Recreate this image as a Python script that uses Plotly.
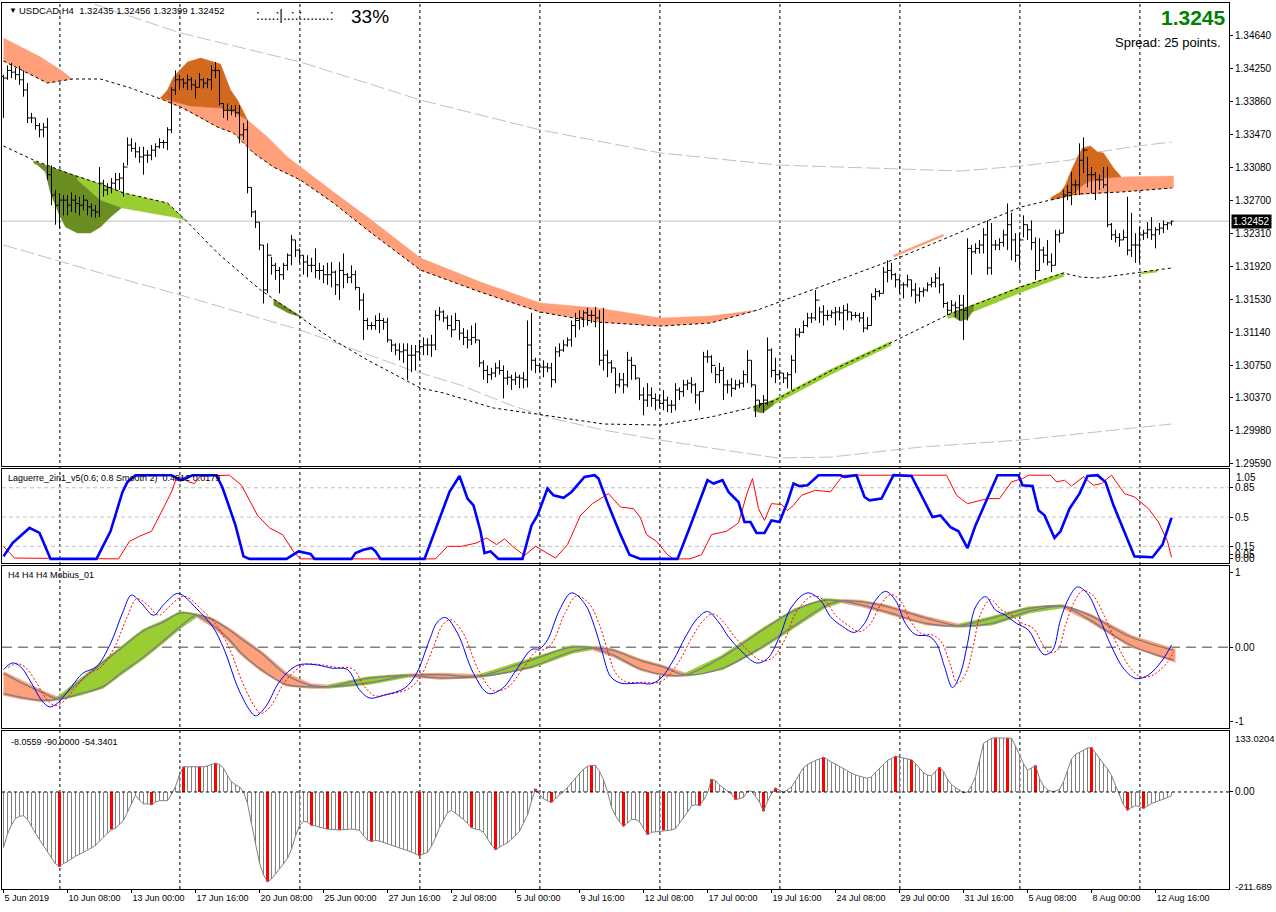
import plotly.graph_objects as go

# ====================== DATA ======================
x_tick_bars = [0, 16, 32, 48, 64, 80, 96, 112, 128, 144, 160, 176, 192, 208, 224, 240, 256, 272, 288]
x_tick_labels = ["5 Jun 2019", "10 Jun 08:00", "13 Jun 00:00", "17 Jun 16:00", "20 Jun 08:00",
                 "25 Jun 00:00", "27 Jun 16:00", "2 Jul 08:00", "5 Jul 00:00", "9 Jul 16:00",
                 "12 Jul 08:00", "17 Jul 00:00", "19 Jul 16:00", "24 Jul 08:00", "29 Jul 00:00",
                 "31 Jul 16:00", "5 Aug 08:00", "8 Aug 00:00", "12 Aug 16:00"]
grid_bars = [14.1, 44.1, 74.1, 104.1, 134.1, 164.1, 194.1, 224.1, 254.1, 284.1]
price_ticks = [1.29590, 1.29980, 1.30370, 1.30750, 1.31140, 1.31530, 1.31920,
               1.32310, 1.32700, 1.33080, 1.33470, 1.33860, 1.34250, 1.34640]
last_price = 1.32452

# USDCAD H4 bars, prices in units of 0.0001
first_open = 13416
bar_high = [13418,13429,13432,13426,13428,13423,13408,13373,13367,13361,
            13361,13367,13311,13282,13278,13276,13276,13279,13276,13274,
            13276,13270,13266,13264,13309,13294,13290,13296,13302,13302,
            13314,13344,13343,13338,13333,13333,13329,13335,13337,13343,
            13341,13356,13403,13423,13418,13414,13418,13415,13412,13420,
            13414,13414,13429,13433,13423,13384,13384,13382,13382,13382,
            13361,13364,13285,13258,13244,13217,13219,13203,13196,13191,
            13196,13207,13229,13223,13213,13205,13205,13202,13213,13196,
            13193,13196,13197,13187,13197,13207,13184,13193,13187,13167,
            13160,13131,13126,13134,13137,13131,13131,13105,13101,13101,
            13101,13101,13099,13099,13105,13108,13107,13111,13140,13144,
            13140,13134,13134,13137,13128,13119,13117,13122,13125,13105,
            13081,13075,13072,13078,13081,13075,13069,13064,13067,13064,
            13067,13128,13137,13084,13078,13081,13078,13078,13097,13101,
            13105,13108,13128,13137,13140,13140,13143,13140,13144,13140,
            13143,13093,13081,13072,13066,13066,13091,13085,13075,13060,
            13049,13054,13049,13042,13040,13046,13038,13034,13054,13049,
            13058,13058,13061,13054,13044,13091,13093,13087,13073,13078,
            13073,13058,13060,13058,13058,13069,13093,13081,13052,13034,
            13040,13108,13095,13084,13069,13066,13067,13087,13119,13119,
            13128,13137,13137,13164,13144,13146,13140,13140,13144,13144,
            13146,13148,13138,13138,13137,13138,13132,13160,13166,13164,
            13191,13199,13196,13184,13179,13173,13182,13176,13172,13167,
            13167,13173,13179,13184,13191,13172,13150,13152,13150,13158,
            13158,13225,13217,13219,13223,13237,13246,13243,13223,13225,
            13235,13266,13255,13231,13231,13252,13241,13246,13226,13225,
            13215,13223,13207,13235,13235,13282,13288,13303,13294,13337,
            13344,13321,13309,13303,13300,13309,13309,13243,13235,13231,
            13235,13274,13255,13231,13238,13235,13244,13250,13238,13243,
            13246,13244,13246]
bar_low = [13367,13412,13414,13412,13406,13392,13361,13361,13353,13344,
           13344,13294,13264,13241,13237,13252,13252,13256,13255,13252,
           13258,13252,13250,13249,13250,13274,13276,13278,13282,13282,
           13274,13311,13327,13320,13314,13300,13314,13317,13321,13331,
           13331,13329,13349,13394,13400,13402,13400,13400,13390,13403,
           13402,13402,13400,13414,13382,13367,13364,13370,13368,13337,
           13341,13278,13250,13237,13211,13148,13160,13182,13176,13160,
           13176,13187,13193,13203,13196,13182,13179,13185,13178,13176,
           13172,13170,13167,13158,13152,13166,13172,13172,13164,13140,
           13105,13117,13117,13117,13113,13117,13102,13091,13087,13081,
           13078,13058,13067,13069,13081,13087,13087,13085,13093,13128,
           13126,13117,13108,13117,13105,13099,13095,13099,13101,13073,
           13058,13054,13058,13061,13064,13036,13052,13046,13052,13048,
           13048,13049,13069,13066,13067,13061,13067,13049,13054,13085,
           13091,13097,13097,13108,13117,13120,13122,13125,13120,13075,
           13069,13061,13066,13042,13049,13042,13049,13058,13058,13034,
           13016,13026,13026,13022,13025,13022,13020,13019,13022,13034,
           13038,13046,13042,13030,13022,13044,13078,13066,13054,13054,
           13034,13042,13038,13046,13048,13049,13054,13049,13014,13025,
           13019,13028,13061,13054,13058,13054,13048,13046,13066,13108,
           13113,13120,13125,13128,13125,13122,13128,13131,13122,13128,
           13117,13128,13128,13131,13126,13114,13117,13122,13152,13156,
           13160,13173,13176,13167,13160,13154,13167,13156,13148,13150,
           13156,13162,13167,13167,13160,13143,13134,13137,13132,13128,
           13105,13128,13182,13207,13207,13207,13182,13182,13211,13211,
           13215,13211,13199,13197,13190,13226,13223,13211,13176,13187,
           13196,13193,13185,13193,13220,13231,13270,13264,13278,13276,
           13302,13285,13278,13270,13282,13284,13238,13223,13220,13215,
           13223,13205,13203,13196,13196,13223,13225,13223,13213,13229,
           13231,13235,13240]
bar_close = [13414,13423,13421,13418,13412,13400,13367,13367,13358,13353,
             13356,13300,13276,13264,13270,13270,13264,13270,13266,13264,
             13270,13262,13258,13256,13290,13282,13285,13290,13294,13296,
             13309,13335,13331,13327,13321,13323,13323,13329,13333,13338,
             13338,13353,13400,13412,13412,13408,13412,13406,13403,13412,
             13408,13412,13423,13423,13384,13376,13376,13376,13373,13347,
             13353,13285,13256,13244,13217,13164,13205,13193,13187,13182,
             13193,13205,13223,13211,13205,13197,13193,13193,13187,13187,
             13182,13182,13185,13170,13187,13182,13179,13182,13167,13152,
             13128,13122,13122,13128,13128,13126,13105,13099,13093,13091,
             13093,13087,13087,13091,13097,13099,13099,13099,13134,13138,
             13131,13122,13117,13128,13113,13108,13105,13108,13105,13078,
             13069,13064,13066,13072,13069,13060,13061,13058,13061,13060,
             13058,13099,13081,13075,13073,13073,13072,13058,13091,13093,
             13099,13105,13122,13128,13131,13137,13134,13134,13131,13081,
             13087,13078,13072,13052,13058,13052,13081,13075,13060,13040,
             13034,13040,13036,13034,13030,13034,13028,13028,13046,13044,
             13052,13054,13052,13040,13044,13085,13085,13075,13064,13069,
             13052,13052,13048,13052,13054,13064,13081,13052,13034,13030,
             13034,13093,13069,13064,13066,13060,13064,13081,13111,13114,
             13122,13131,13131,13152,13138,13134,13134,13137,13138,13137,
             13140,13138,13134,13134,13131,13119,13122,13156,13162,13160,
             13185,13187,13182,13176,13170,13170,13176,13164,13158,13162,
             13164,13170,13173,13178,13170,13148,13140,13146,13143,13146,
             13140,13213,13209,13213,13217,13229,13190,13217,13217,13220,
             13229,13241,13223,13205,13223,13241,13235,13220,13187,13211,
             13205,13197,13193,13229,13231,13276,13279,13288,13288,13317,
             13329,13300,13300,13294,13294,13288,13241,13229,13226,13223,
             13226,13211,13217,13217,13229,13231,13235,13229,13235,13237,
             13241,13243,13245]

# --- main-panel indicator curves (x = bar index, y = price) ---
mid_up_x = [0, 11, 17.25, 24.25, 31.75, 40, 44.25, 46.75, 53.5, 57.5, 62.5, 67.5, 74.25, 82.5, 91,
            104.25, 119.25, 134.25, 148.5, 164.25, 176.75, 188.5, 206.75, 224.25, 239.25, 254.25,
            261.75, 268.5, 279.25, 292]
mid_up_y = [1.34341, 1.34082, 1.34129, 1.34129, 1.34023, 1.33881, 1.33798, 1.33739, 1.33562, 1.33492,
            1.33256, 1.33090, 1.32937, 1.32666, 1.32347, 1.31875, 1.31615, 1.31379, 1.31261, 1.31214,
            1.31250, 1.31403, 1.31722, 1.32028, 1.32323, 1.32618, 1.32701, 1.32772, 1.32795, 1.32843]
mid_dn_x = [0, 7.5, 16, 24.25, 30, 41, 45.5, 53.5, 64.25, 74.25, 82.5, 91, 104.25, 110, 122.5, 135,
            150, 164.25, 176.75, 187.5, 192.5, 206.75, 221.75, 236, 254.25, 265, 269.25, 273.5, 283.5, 292]
mid_dn_y = [1.33338, 1.33173, 1.33020, 1.32890, 1.32784, 1.32666, 1.32465, 1.32076, 1.31639, 1.31320,
            1.31049, 1.30813, 1.30483, 1.30424, 1.30247, 1.30164, 1.30058, 1.30046, 1.30140, 1.30258,
            1.30329, 1.30683, 1.31014, 1.31344, 1.31674, 1.31840, 1.31792, 1.31781, 1.31840, 1.31899]
outer_up_x = [14.25, 21.75, 44.25, 74.25, 104.25, 134.25, 164.25, 193.5, 224.25, 239.25, 254.25,
              266.75, 273.5, 283.5, 292]
outer_up_y = [1.35155, 1.35026, 1.34672, 1.34329, 1.33881, 1.33527, 1.33256, 1.33114, 1.33067,
              1.33043, 1.33102, 1.33173, 1.33267, 1.33338, 1.33385]
outer_dn_x = [0, 24.25, 44.25, 74.25, 101.75, 114.25, 126.75, 136.75, 150, 164.25, 176.75, 193.5,
              206.75, 229.25, 254.25, 292]
outer_dn_y = [1.32170, 1.31840, 1.31580, 1.31167, 1.30695, 1.30518, 1.30282, 1.30129, 1.29987,
              1.29869, 1.29775, 1.29657, 1.29668, 1.29786, 1.29869, 1.30058]

# salmon bands (upper edge / lower edge)
salmon1_top_x = [0, 4.25, 9.25, 14.25, 17.25]
salmon1_top_y = [1.34613, 1.34506, 1.34388, 1.34235, 1.34129]
salmon1_bot_x = [0, 11, 17.25]
salmon1_bot_y = [1.34341, 1.34082, 1.34129]
salmon2_top_x = [39.25, 46.75, 54.25, 57.5, 61, 66, 71, 74.25, 82.5, 91, 104.25, 119.25, 134.25,
                 148.5, 164.25, 176.75, 188.5]
salmon2_top_y = [1.33905, 1.33810, 1.33787, 1.33739, 1.33645, 1.33444, 1.33208, 1.33090, 1.32795,
                 1.32500, 1.32017, 1.31733, 1.31486, 1.31427, 1.31309, 1.31332, 1.31403]
salmon2_bot_x = [39.25, 40, 44.25, 46.75, 53.5, 57.5, 62.5, 67.5, 74.25, 82.5, 91, 104.25, 119.25,
                 134.25, 148.5, 164.25, 176.75, 188.5]
salmon2_bot_y = [1.33893, 1.33881, 1.33798, 1.33739, 1.33562, 1.33492, 1.33256, 1.33090, 1.32937,
                 1.32666, 1.32347, 1.31875, 1.31615, 1.31379, 1.31261, 1.31214, 1.31250, 1.31403]
salmon3_x = [222.5, 235]
salmon3_y = [1.32040, 1.32288]
salmon4_top_x = [267.5, 269.25, 271, 275, 279.25, 292.5]
salmon4_top_y = [1.32760, 1.32855, 1.32913, 1.32961, 1.32972, 1.32984]
salmon4_bot_x = [267.5, 279.25, 292.5]
salmon4_bot_y = [1.32760, 1.32795, 1.32843]

# dark orange humps
hump1_top_x = [39.25, 41, 42.5, 44.25, 46, 49.25, 52.5, 54.25, 55.5, 56.75, 58.5, 61]
hump1_top_y = [1.33905, 1.33999, 1.34152, 1.34235, 1.34329, 1.34377, 1.34329, 1.34306, 1.34152,
               1.33999, 1.33881, 1.33645]
hump1_bot_x = [39.25, 46.75, 54.25, 57.5, 61]
hump1_bot_y = [1.33905, 1.33810, 1.33787, 1.33739, 1.33645]
hump2_top_x = [261.75, 264.25, 265.5, 266.75, 268.5, 269.75, 271.75, 273.5, 275, 276.25, 277.5, 279.25]
hump2_top_y = [1.32725, 1.32795, 1.32878, 1.33031, 1.33208, 1.33315, 1.33338, 1.33267, 1.33256,
               1.33173, 1.33079, 1.32984]
hump2_bot_x = [261.75, 267.5, 269.25, 271, 275, 279.25]
hump2_bot_y = [1.32701, 1.32760, 1.32855, 1.32913, 1.32961, 1.32972]

# green bands
olive1_top_x = [7.5, 16, 24.25, 29.75]
olive1_top_y = [1.33161, 1.33020, 1.32890, 1.32795]
olive1_bot_x = [7.5, 8.5, 10.5, 11.75, 13.75, 15.5, 18.5, 21.75, 24.25, 26.75, 29.75]
olive1_bot_y = [1.33138, 1.33114, 1.33031, 1.32784, 1.32548, 1.32382, 1.32312, 1.32312, 1.32382,
                1.32500, 1.32618]
lime1_top_x = [18.5, 24.25, 30, 41, 45.5]
lime1_top_y = [1.32972, 1.32890, 1.32784, 1.32666, 1.32465]
lime1_bot_x = [18.5, 24.25, 29.75, 36.75, 42.5, 45.5]
lime1_bot_y = [1.32937, 1.32701, 1.32607, 1.32548, 1.32500, 1.32465]
olive2_top_x = [67.5, 75]
olive2_top_y = [1.31533, 1.31309]
olive2_bot_x = [67.5, 71.25, 75]
olive2_bot_y = [1.31462, 1.31368, 1.31309]
olive3_top_x = [187.5, 192.5]
olive3_top_y = [1.30270, 1.30341]
olive3_bot_x = [187.5, 189.75, 192.5]
olive3_bot_y = [1.30211, 1.30188, 1.30282]
lime3_top_x = [192.5, 206.75, 221.75]
lime3_top_y = [1.30341, 1.30695, 1.31025]
lime3_bot_x = [192.5, 206.75, 221.75]
lime3_bot_y = [1.30294, 1.30648, 1.30990]
olive4_top_x = [237.5, 242.5]
olive4_top_y = [1.31379, 1.31462]
olive4_bot_x = [237.5, 239.25, 241, 242.5]
olive4_bot_y = [1.31320, 1.31273, 1.31297, 1.31403]
lime4_top_x = [236, 254.25, 265]
lime4_top_y = [1.31344, 1.31674, 1.31840]
lime4_bot_x = [236, 242.5, 254.25, 265]
lime4_bot_y = [1.31309, 1.31391, 1.31615, 1.31804]
lime5_x = [284.25, 288.5]
lime5_y = [1.31840, 1.31863]

# --- Laguerre ---
lag_levels = [0.15, 0.5, 0.85]
lag_ticks = [0.85, 0.5, 0.15, 0.05, 0.0]
lag_tick_text = ["0.85", "0.5", "0.15", "0.05", "0.00"]
lag_top_label = "1.05"
lag_blue_x = [0,2.25,6.5,9,11.5,11.75,23.25,26.75,29.75,31,33,42,44.25,47.25,53.25,54.75,56,58,60,61.5,
              70.75,73.75,76.75,77.75,87,88,90,92,93,94.25,105.25,109,111.5,114,116,117.5,119.25,120.25,
              121.75,123.75,129.75,132,133.5,136,137.5,140,142,145.25,147.75,148.75,151.25,154.25,156.5,
              159.25,168.5,171.5,174,176,177.5,179.75,181.25,183.75,185.25,186.75,188.25,190.25,192,194,
              196,197.5,199,201,203.75,209.25,210.25,212.25,213.25,215.25,216.5,219.5,222.5,227,229.75,
              232.25,234.25,236.75,238.75,241,243,246,248.5,253.75,254.75,257.25,258.75,260.25,262.75,
              264.25,266.5,269,271,273.5,275.5,277.5,280.25,282.75,287.25,289.75,292]
lag_blue_y = [0.03,0.19,0.37,0.31,0.03,0.0,0.0,0.33,0.80,0.92,1.0,1.0,0.94,1.0,1.0,0.85,0.68,0.40,0.03,0.0,
              0.0,0.09,0.06,0.0,0.0,0.07,0.11,0.13,0.09,0.0,0.0,0.49,0.80,0.99,0.72,0.64,0.33,0.07,0.09,0.0,
              0.0,0.40,0.52,0.84,0.76,0.73,0.80,0.98,1.0,0.96,0.64,0.29,0.05,0.0,0.0,0.37,0.68,0.94,0.90,0.94,
              0.80,0.68,0.44,0.44,0.31,0.31,0.46,0.44,0.68,0.90,0.87,0.88,1.0,1.0,0.98,0.99,1.0,0.74,0.70,0.72,
              1.0,0.99,0.73,0.50,0.52,0.38,0.33,0.13,0.40,0.72,1.0,1.0,0.88,0.87,0.58,0.52,0.25,0.33,0.60,0.78,
              0.99,1.0,0.92,0.64,0.33,0.03,0.02,0.17,0.49]
lag_red_x = [0,2.75,28.75,31.5,34,37,40,42,43.25,44.75,46.25,47.75,49.25,56.5,59.5,63.5,66.5,69.75,72.75,
             74.25,108,111,114.5,118.25,120.75,123.25,125.25,127.25,130.25,133,138,141,144.25,147.25,151.25,
             154.25,157.5,159.25,160.75,163.25,166,167.5,171.5,174.5,177,180.75,183.75,186,187.25,188.75,
             190.25,192,194.5,196,197.5,199.5,203,206.75,209.25,210.25,235.75,238.25,241,246,249,252,254.75,
             256.25,261.75,263.25,265.25,267,270,272.5,274.5,277,280.25,282.75,286.25,288.75,291,292]
lag_red_y = [0.15,0.01,0.0,0.21,0.27,0.33,0.61,0.80,0.97,0.97,0.92,0.90,0.99,1.0,0.88,0.52,0.37,0.29,0.07,0.0,
             0.0,0.15,0.15,0.19,0.25,0.17,0.24,0.15,0.04,0.15,0.01,0.17,0.52,0.66,0.78,0.62,0.60,0.49,0.29,0.21,
             0.05,0.0,0.0,0.05,0.29,0.33,0.43,0.80,0.96,0.60,0.46,0.66,0.65,0.58,0.64,0.76,0.82,0.80,0.96,1.0,
             1.0,0.76,0.66,0.72,0.72,0.92,0.96,1.0,1.0,0.92,0.94,0.87,0.98,0.88,0.90,1.0,0.78,0.74,0.60,0.44,
             0.21,0.02]

# --- Mobius ---
mob_ticks = [1, 0, -1]
mob_tick_text = ["1", "0.00", "-1"]
mob_blue_x = [0,2.25,4.25,7,9.5,11.5,13.5,17,19.75,23.25,26.75,29.75,32,34.5,37.5,40,43.25,44.75,48.25,52.25,
              55.25,58.5,61.5,63,65.5,68.75,71.75,74.25,78.75,82,86,89,91.5,95.25,100.25,103.25,106.5,108.5,
              110.5,113.5,117.5,121.25,124.75,128.25,132,134,136,139,142,145.25,147.75,149.75,151.75,154.25,
              159.25,161.75,164.25,167.5,170.5,173.5,176,178.75,181.25,184.25,188.25,191,194,197,201,204.25,
              206.75,209.75,212.75,215.25,218,220.5,223,225.5,228,231.25,233.25,235.25,237.25,239.25,241,243,
              245.5,248,250.5,253.25,256.25,258.75,260.25,262.25,264.25,266.5,268.5,271,274,277,280.25,283.25,
              286.25,289.75,292]
mob_blue_y = [-0.30,-0.21,-0.26,-0.48,-0.71,-0.80,-0.75,-0.53,-0.35,-0.26,0.05,0.46,0.70,0.59,0.43,0.57,0.72,
              0.70,0.52,0.28,-0.04,-0.53,-0.84,-0.92,-0.80,-0.48,-0.30,-0.23,-0.24,-0.28,-0.30,-0.57,-0.68,
              -0.64,-0.55,-0.35,0.10,0.34,0.40,0.19,-0.35,-0.62,-0.55,-0.30,-0.03,-0.02,0.10,0.50,0.73,0.59,
              0.28,-0.08,-0.39,-0.48,-0.48,-0.49,-0.42,-0.17,0.14,0.39,0.48,0.34,0.14,-0.04,-0.21,-0.15,0.14,
              0.54,0.73,0.63,0.41,0.28,0.20,0.32,0.63,0.75,0.63,0.32,0.17,0.15,0.05,-0.26,-0.54,-0.35,0.05,
              0.54,0.68,0.50,0.43,0.32,0.23,-0.01,-0.10,-0.04,0.37,0.68,0.81,0.72,0.39,0.01,-0.30,-0.42,-0.37,
              -0.17,0.03]
mob_red_x = [1.2,3.5,5.5,8.2,10.7,12.8,14.7,18.2,21,24.5,28,31,33.3,35.8,38.8,41.3,44.5,46,49.5,53.5,
             56.5,59.8,62.8,64.3,66.8,70,73,75.5,80,83.3,87.3,90.3,92.8,96.5,101.5,104.5,107.8,109.8,111.8,
             114.8,118.8,122.5,126,129.5,133.3,135.3,137.3,140.3,143.3,146.5,149,151,153,155.5,160.5,163,
             165.5,168.8,171.8,174.8,177.3,180,182.5,185.5,189.5,192.3,195.3,198.3,202.3,205.5,208,211,214,
             216.5,219.3,221.8,224.3,226.8,229.3,232.5,234.5,236.5,238.5,240.5,242.3,244.3,246.8,249.3,251.8,
             254.5,257.5,260,261.5,263.5,265.5,267.8,269.8,272.3,275.3,278.3,281.5,284.5,287.5,291,292.5]
mob_red_y = [-0.27,-0.22,-0.27,-0.47,-0.69,-0.78,-0.74,-0.53,-0.36,-0.26,0.03,0.42,0.65,0.58,0.43,0.54,0.68,
             0.67,0.51,0.28,-0.02,-0.48,-0.80,-0.89,-0.79,-0.49,-0.31,-0.23,-0.24,-0.27,-0.29,-0.53,-0.65,
             -0.63,-0.55,-0.37,0.05,0.30,0.37,0.20,-0.31,-0.58,-0.54,-0.31,-0.05,-0.03,0.07,0.45,0.69,0.58,
             0.30,-0.04,-0.34,-0.46,-0.47,-0.48,-0.42,-0.20,0.10,0.35,0.45,0.34,0.16,-0.01,-0.18,-0.14,0.10,
             0.48,0.69,0.62,0.43,0.30,0.21,0.30,0.57,0.71,0.62,0.35,0.19,0.16,0.07,-0.20,-0.48,-0.36,-0.02,
             0.45,0.64,0.51,0.44,0.33,0.25,0.02,-0.07,-0.04,0.30,0.62,0.76,0.70,0.41,0.05,-0.26,-0.40,-0.37,
             -0.20,-0.06]
mob_band_x = [0,4.25,9.5,13.5,19.25,24.75,29.25,35,40,44.25,48.25,52.25,56.5,59.5,64.5,70.75,76.75,81,91,
              101.25,109.25,118.75,132,142,147.25,152.25,159.25,165.25,170.5,179.75,189.75,198,205.25,209.25,
              214.25,220.5,230.75,238.75,247,256.25,264.75,271.5,281.75,292.5]
mob_fast = [-0.62,-0.67,-0.71,-0.69,-0.45,-0.21,-0.02,0.22,0.34,0.46,0.43,0.30,0.10,-0.08,-0.30,-0.50,-0.53,
            -0.53,-0.42,-0.38,-0.41,-0.39,-0.17,0.0,-0.01,-0.10,-0.29,-0.37,-0.37,-0.13,0.23,0.50,0.63,0.62,
            0.57,0.48,0.32,0.29,0.39,0.52,0.55,0.37,0.03,-0.17]
mob_slow = [-0.35,-0.47,-0.60,-0.69,-0.62,-0.53,-0.35,-0.13,0.09,0.28,0.43,0.37,0.23,0.11,-0.08,-0.37,-0.51,
            -0.53,-0.48,-0.38,-0.37,-0.39,-0.26,-0.06,-0.01,-0.04,-0.18,-0.27,-0.37,-0.28,0.01,0.30,0.55,0.62,
            0.61,0.55,0.39,0.29,0.32,0.48,0.55,0.43,0.14,-0.04]

# --- lower oscillator histogram (one value per bar) ---
osc_max, osc_min = 133.0204, -211.689
osc_vals = [-121,-92,-72,-58,-53,-52,-60,-76,-90,-104,
            -117,-131,-145,-157,-163,-156,-152,-146,-140,-136,
            -131,-126,-122,-117,-107,-98,-90,-82,-79,-71,
            -62,-44,-25,-7,-18,-26,-26,-28,-22,-19,
            -19,-19,-5,12,38,55,55,55,55,55,
            55,57,60,63,60,52,36,22,16,11,
            0,-25,-70,-112,-155,-181,-196,-190,-178,-168,
            -157,-145,-125,-96,-74,-64,-66,-73,-74,-77,
            -79,-81,-82,-83,-83,-82,-81,-81,-82,-84,
            -95,-105,-108,-106,-107,-110,-113,-116,-119,-122,
            -124,-127,-131,-135,-139,-135,-132,-118,-100,-78,
            -62,-45,-40,-46,-52,-60,-69,-78,-81,-83,
            -88,-102,-116,-126,-120,-115,-111,-103,-96,-86,
            -68,-50,-20,7,-5,-15,-19,-23,-15,-6,
            0,10,22,31,42,50,56,58,58,45,
            27,0,-33,-52,-65,-75,-68,-60,-60,-65,
            -80,-93,-88,-87,-85,-84,-84,-83,-80,-68,
            -58,-44,-30,-28,-30,-18,-2,28,25,15,
            9,2,-5,-17,-15,-12,2,2,-10,-22,
            -42,-20,-4,9,4,-2,5,11,25,40,
            53,60,65,69,72,76,71,65,61,56,
            50,45,41,37,34,32,30,33,43,52,
            60,69,73,78,76,74,72,70,62,52,
            42,37,35,45,54,45,28,16,10,5,
            -2,0,14,33,70,106,112,117,118,118,
            118,118,117,100,80,62,47,52,58,30,
            13,5,1,2,6,22,48,72,82,86,
            91,96,97,85,74,63,50,36,15,-8,
            -28,-40,-34,-30,-32,-36,-30,-25,-22,-19,
            -16,-12,-8]
osc_red_bars = [14, 27, 37, 45, 49, 53, 66, 77, 81, 84, 92, 104, 117, 123, 133, 137, 147, 155, 161,
                165, 174, 177, 183, 186, 190, 193, 195, 205, 223, 227, 234, 240, 248, 251, 258, 272,
                281, 285]

# ====================== LAYOUT GEOMETRY ======================
FIG_W, FIG_H = 1276, 912
M_L, M_R, M_T, M_B = 2, 47, 3, 23
PLOT_W = FIG_W - M_L - M_R
PLOT_H = FIG_H - M_T - M_B


def pxx(x):
    return (x - M_L) / PLOT_W


def pxy(y):
    return (FIG_H - M_B - y) / PLOT_H


X_RANGE = [-0.375, -0.375 + PLOT_W / 4.0]
dom_main = [pxy(466), 1.0]
dom_lag = [pxy(563), pxy(469)]
dom_mob = [pxy(728), pxy(566)]
dom_osc = [0.0, pxy(731)]

SALMON = "#FFA07A"
CHOCO = "#D2691E"
LIME = "#9ACD32"
OLIVE = "#6B8E23"
FONT = "Liberation Sans, Arial, sans-serif"

fig = go.Figure()


def line(x, y, color, width=1, dash=None, xa="x", ya="y", shape="linear"):
    fig.add_trace(go.Scatter(x=x, y=y, mode="lines", xaxis=xa, yaxis=ya, hoverinfo="skip",
                             showlegend=False,
                             line=dict(color=color, width=width, dash=dash, shape=shape)))


def band(xt, yt, xb, yb, color, xa="x", ya="y", lw=0.5):
    xs = list(xt) + list(reversed(xb))
    ys = list(yt) + list(reversed(yb))
    fig.add_trace(go.Scatter(x=xs, y=ys, mode="lines", fill="toself", fillcolor=color,
                             xaxis=xa, yaxis=ya, hoverinfo="skip", showlegend=False,
                             line=dict(color=color, width=lw)))


# ---------------- main panel ----------------
line(outer_up_x, outer_up_y, "#C0C0C0", 1, "14px,4px")
line(outer_dn_x, outer_dn_y, "#C0C0C0", 1, "14px,4px")
band(salmon1_top_x, salmon1_top_y, salmon1_bot_x, salmon1_bot_y, SALMON)
band(salmon2_top_x, salmon2_top_y, salmon2_bot_x, salmon2_bot_y, SALMON)
band(salmon4_top_x, salmon4_top_y, salmon4_bot_x, salmon4_bot_y, SALMON)
line(salmon3_x, salmon3_y, SALMON, 2.5)
band(hump1_top_x, hump1_top_y, hump1_bot_x, hump1_bot_y, CHOCO)
band(hump2_top_x, hump2_top_y, hump2_bot_x, hump2_bot_y, CHOCO)
band(olive1_top_x, olive1_top_y, olive1_bot_x, olive1_bot_y, OLIVE)
band(lime1_top_x, lime1_top_y, lime1_bot_x, lime1_bot_y, LIME)
band(olive2_top_x, olive2_top_y, olive2_bot_x, olive2_bot_y, OLIVE)
band(lime3_top_x, lime3_top_y, lime3_bot_x, lime3_bot_y, LIME, lw=1.5)
band(olive3_top_x, olive3_top_y, olive3_bot_x, olive3_bot_y, OLIVE)
band(lime4_top_x, lime4_top_y, lime4_bot_x, lime4_bot_y, LIME, lw=1.5)
band(olive4_top_x, olive4_top_y, olive4_bot_x, olive4_bot_y, OLIVE)
line(lime5_x, lime5_y, LIME, 2.5)
line(mid_up_x, mid_up_y, "black", 1, "3px,3px")
line(mid_dn_x, mid_dn_y, "black", 1, "3px,3px")

# OHLC bars (MT4 style: open tick left, close tick right)
opens = [first_open] + bar_close[:-1]
ohlc_x, ohlc_y = [], []
for i in range(len(bar_close)):
    o, h, l, c = opens[i] * 1e-4, bar_high[i] * 1e-4, bar_low[i] * 1e-4, bar_close[i] * 1e-4
    ohlc_x += [i, i, None, i - 0.5, i, None, i, i + 0.5, None]
    ohlc_y += [l, h, None, o, o, None, c, c, None]
line(ohlc_x, ohlc_y, "black", 1)

# ---------------- Laguerre panel ----------------
line(lag_red_x, lag_red_y, "#FF0000", 1, xa="x2", ya="y2")
line(lag_blue_x, lag_blue_y, "#0000FF", 2.6, xa="x2", ya="y2")

# ---------------- Mobius panel ----------------
start = 0
for k in range(1, len(mob_band_x)):
    if mob_fast[k] == mob_slow[k] or k == len(mob_band_x) - 1:
        xs = mob_band_x[start:k + 1]
        fs = mob_fast[start:k + 1]
        ss = mob_slow[start:k + 1]
        col = LIME if sum(fs) > sum(ss) else SALMON
        band(xs, fs, xs, ss, col, xa="x3", ya="y3", lw=4)
        start = k
line(mob_band_x, mob_fast, "#808080", 1.5, xa="x3", ya="y3", shape="spline")
line(mob_band_x, mob_slow, "#808080", 1.5, xa="x3", ya="y3", shape="spline")
line(mob_red_x, mob_red_y, "#FF0000", 1, "2px,2px", xa="x3", ya="y3", shape="spline")
line(mob_blue_x, mob_blue_y, "#0000FF", 1, xa="x3", ya="y3", shape="spline")

# ---------------- oscillator panel ----------------
sx, sy = [], []
for i, v in enumerate(osc_vals):
    sx += [i, i, None]
    sy += [0, v, None]
line(sx, sy, "#808080", 1, xa="x4", ya="y4")
rx, ry = [], []
for i in osc_red_bars:
    rx += [i, i, None]
    ry += [0, osc_vals[i], None]
line(rx, ry, "#FF0000", 3, xa="x4", ya="y4")
line(list(range(len(osc_vals))), osc_vals, "#808080", 1, xa="x4", ya="y4")

# ====================== SHAPES ======================
shapes = []
for g in grid_bars:
    shapes.append(dict(type="line", xref="x", yref="paper", x0=g, x1=g, y0=0, y1=1, layer="below",
                       line=dict(color="black", width=1, dash="3px,3px")))
shapes.append(dict(type="line", xref="x", yref="y", x0=X_RANGE[0], x1=X_RANGE[1], y0=last_price,
                   y1=last_price, layer="below", line=dict(color="#C0C0C0", width=1)))
for lv in lag_levels:
    shapes.append(dict(type="line", xref="x2", yref="y2", x0=X_RANGE[0], x1=X_RANGE[1], y0=lv, y1=lv,
                       layer="below", line=dict(color="#C0C0C0", width=1, dash="4px,3px")))
shapes.append(dict(type="line", xref="x3", yref="y3", x0=X_RANGE[0], x1=X_RANGE[1], y0=0, y1=0,
                   layer="below", line=dict(color="#808080", width=1.5, dash="10px,6px")))
shapes.append(dict(type="line", xref="x4", yref="y4", x0=X_RANGE[0], x1=X_RANGE[1], y0=0, y1=0,
                   layer="above", line=dict(color="black", width=1, dash="3px,3px")))

# ====================== ANNOTATIONS ======================
ann = []


def text(x, y, s, size=9.5, anchor="left", color="black", bold=False, **kw):
    d = dict(xref="paper", yref="paper", x=pxx(x), y=pxy(y), text=("<b>%s</b>" % s) if bold else s,
             showarrow=False, xanchor=anchor, yanchor="middle",
             font=dict(family=FONT, size=size, color=color))
    d.update(kw)
    ann.append(d)


text(7, 11, "▼", size=8)
text(17, 11, "USDCAD,H4&nbsp;&nbsp;1.32435 1.32456 1.32399 1.32452", size=9.5)
text(254, 15, ":....:|..:.:.......:", size=14)
text(349, 16, "33%", size=19)
text(1228, 18, "1.3245", size=21, anchor="right", color="#008000", bold=True)
text(1223, 42, "Spread: 25 points.", size=13, anchor="right")
text(6, 478, "Laguerre_2in1_v5(0.6; 0.8 Smooth 2)&nbsp;&nbsp;0.4812 0.0179", size=9)
text(6, 575, "H4 H4 H4 Mobius_01", size=9)
text(9, 742, "-8.0559 -90.0000 -54.3401", size=9)
text(1234, 477, lag_top_label, size=10)
text(1233, 738, "133.0204", size=9.5)
text(1233, 886, "-211.689", size=9.5)
ann.append(dict(xref="paper", yref="y", x=pxx(1231), y=last_price, text="1.32452", showarrow=False,
                xanchor="left", yanchor="middle", bgcolor="black", borderpad=1,
                font=dict(family=FONT, size=10, color="white")))

# ====================== AXES ======================
xbase = dict(range=X_RANGE, showline=True, linecolor="black", linewidth=1, mirror=True,
             showgrid=False, zeroline=False, showticklabels=False, ticks="", fixedrange=True,
             rangeslider=dict(visible=False))
ybase = dict(side="right", showline=True, linecolor="black", linewidth=1, mirror=True,
             showgrid=False, zeroline=False, ticks="outside", ticklen=3, tickcolor="black",
             tickfont=dict(family=FONT, size=10, color="black"), fixedrange=True)

layout = dict(
    width=FIG_W, height=FIG_H,
    margin=dict(l=M_L, r=M_R, t=M_T, b=M_B, pad=0),
    paper_bgcolor="white", plot_bgcolor="white",
    font=dict(family=FONT, size=10, color="black"),
    showlegend=False,
    xaxis=dict(xbase, anchor="y", domain=[0, 1]),
    xaxis2=dict(xbase, anchor="y2", domain=[0, 1]),
    xaxis3=dict(xbase, anchor="y3", domain=[0, 1]),
    xaxis4=dict(xbase, anchor="y4", domain=[0, 1], showticklabels=True, ticks="outside", ticklen=3,
                tickcolor="black", tickvals=x_tick_bars, ticktext=x_tick_labels,
                ticklabelposition="outside right",
                tickfont=dict(family=FONT, size=9, color="black")),
    yaxis=dict(ybase, anchor="x", domain=dom_main, range=[1.295627, 1.350258],
               tickvals=price_ticks, tickformat=".5f"),
    yaxis2=dict(ybase, anchor="x2", domain=dom_lag, range=[-0.049, 1.074],
                tickvals=lag_ticks, ticktext=lag_tick_text),
    yaxis3=dict(ybase, anchor="x3", domain=dom_mob, range=[-1.083, 1.091],
                tickvals=mob_ticks, ticktext=mob_tick_text),
    yaxis4=dict(ybase, anchor="x4", domain=dom_osc, range=[osc_min, osc_max],
                tickvals=[0], ticktext=["0.00"]),
    shapes=shapes,
    annotations=ann,
)
fig.update_layout(layout)
fig.write_html("out.html", config={"displayModeBar": False},
               post_script="document.body.style.margin='0';document.body.style.overflow='hidden';")
